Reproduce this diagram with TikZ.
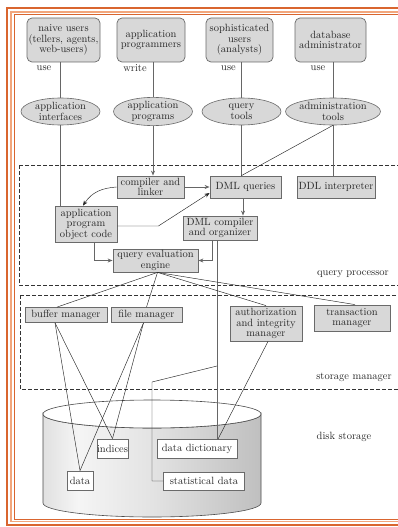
\documentclass[tikz,border=0pt]{standalone}
\usetikzlibrary{shapes.geometric,arrows.meta}
\definecolor{boxfill}{HTML}{D8D8D8}
\definecolor{boxline}{HTML}{6A6A6A}
\definecolor{frameA}{HTML}{D9652F}
\definecolor{frameB}{HTML}{F2A67C}
\pgfdeclarehorizontalshading{cylshade}{100bp}{color(0bp)=(gray!70); color(12bp)=(gray!50); color(33bp)=(gray!8); color(50bp)=(gray!22); color(75bp)=(gray!50); color(92bp)=(gray!75); color(100bp)=(gray!65)}
\begin{document}
\begin{tikzpicture}[x=1pt,y=-1pt, font=\fontsize{10.5}{10.5}\selectfont,
 ubox/.style={draw=boxline, fill=boxfill, rounded corners=5pt, align=center, inner sep=0pt, line width=0.7pt, text=black!85},
 eln/.style={ellipse, draw=boxline, fill=boxfill, align=center, inner sep=0pt, line width=0.6pt, text=black!85},
 pbox/.style={draw=boxline, fill=boxfill, align=center, inner sep=0pt, line width=0.8pt, text=black!85},
 wbox/.style={draw=boxline, fill=white, align=center, inner sep=0pt, line width=0.8pt, text=black!85},
 gline/.style={draw=black!60, line width=0.9pt},
 tline/.style={draw=black!85, line width=0.45pt},
 arr/.style={-{Stealth[length=5pt,width=4pt]}},
 region/.style={draw=black!80, line width=0.6pt, dash pattern=on 4pt off 2pt},
 lbl/.style={inner sep=0pt, text=black!85}]

\useasboundingbox (0,0) rectangle (398,527);
\fill[white] (0,0) rectangle (398,527);
% frame
\draw[frameA, line width=2.5pt] (7,8) rectangle (410,525);
\draw[frameB, line width=1.2pt] (11,12) rectangle (410,521.5);
\draw[frameA, line width=0.8pt] (14,14.5) rectangle (410,519);

% disk cylinder
\shade[shading=cylshade, draw=black!70, line width=0.6pt] (43,414) -- (43,503)
  arc[start angle=180, end angle=0, x radius=109, y radius=14] -- (261,414)
  arc[start angle=0, end angle=180, x radius=109, y radius=14] -- cycle;
\draw[fill=white, draw=black!70, line width=0.6pt] (152,414) ellipse [x radius=109, y radius=14];

% dashed regions
\draw[region] (19,165) rectangle (405,285);
\draw[region] (20,295) rectangle (405,389);

% users
\node[ubox, minimum width=73pt, minimum height=44pt] (naive) at (63.5,40) {naive users\\(tellers, agents,\\web-users)};
\node[ubox, minimum width=68pt, minimum height=44pt] (appprog) at (151,40) {application\\programmers};
\node[ubox, minimum width=67pt, minimum height=44pt] (soph) at (239.5,40) {sophisticated\\users\\(analysts)};
\node[ubox, minimum width=71pt, minimum height=44pt] (dba) at (330.5,40) {database\\administrator};

\node[lbl] (use1) at (44,68) {use};
\node[lbl] (write) at (135,68) {write};
\node[lbl] (use2) at (228.5,68) {use};
\node[lbl] (use3) at (318,68) {use};

% tools
\node[eln, minimum width=79pt, minimum height=27pt] (ai) at (60.5,111.5) {application\\interfaces};
\node[eln, minimum width=79pt, minimum height=27pt] (apps) at (153,111.5) {application\\programs};
\node[eln, minimum width=79pt, minimum height=27pt] (qt) at (241.5,111.5) {query\\tools};
\node[eln, minimum width=80pt, minimum height=27pt] (adm) at (333,111.5) {administration\\tools};

% query processor
\node[pbox, minimum width=67pt, minimum height=22pt] (cl) at (150.5,187) {compiler and\\linker};
\node[pbox, minimum width=71pt, minimum height=22pt] (dml) at (245.5,187) {DML queries};
\node[pbox, minimum width=78pt, minimum height=22pt] (ddl) at (336,187) {DDL interpreter};
\node[pbox, minimum width=62pt, minimum height=36pt] (obj) at (86,224) {application\\program\\object code};
\node[pbox, minimum width=74pt, minimum height=24pt] (dcomp) at (220,228) {DML compiler\\and organizer};
\node[pbox, minimum width=85pt, minimum height=23pt] (qe) at (155.5,260.5) {query evaluation\\engine};
\node[lbl] (lqp) at (353,274) {query processor};

% storage manager
\node[pbox, minimum width=82pt, minimum height=15pt] (buf) at (66,315) {buffer manager};
\node[pbox, minimum width=71pt, minimum height=15pt] (fm) at (146.5,315) {file manager};
\node[pbox, minimum width=72pt, minimum height=35pt] (auth) at (266,323.5) {authorization\\and integrity\\manager};
\node[pbox, minimum width=76pt, minimum height=26pt] (trans) at (352,318) {transaction\\manager};
\node[lbl] (lsm) at (354,377) {storage manager};

% disk storage
\node[wbox, minimum width=31pt, minimum height=19pt] (idx) at (112.5,448.5) {indices};
\node[wbox, minimum width=80pt, minimum height=19pt] (dd) at (197,449) {data dictionary};
\node[wbox, minimum width=26pt, minimum height=19pt] (data) at (80,480.5) {data};
\node[wbox, minimum width=81pt, minimum height=18pt] (stats) at (204,481) {statistical data};
\node[lbl] (lds) at (344,437) {disk storage};

% connectors: users to tools
\draw[gline] (ai.north |- naive.south) -- (ai.north);
\draw[gline] (ai.south) -- (ai.south |- obj.north);
\draw[gline] (apps.north |- appprog.south) -- (apps.north);
\draw[gline, arr] (apps.south) -- (apps.south |- cl.north);
\draw[gline] (qt.north |- soph.south) -- (qt.north);
\coordinate (dmltop) at (qt.south |- dml.north);
\draw[gline] (qt.south) -- (dmltop);
\draw[gline] (adm.north |- dba.south) -- (adm.north);
\draw[gline] (adm.south) -- (adm.south |- ddl.north);
\draw[tline] (adm.south) -- (dmltop);

% query processor connectors
\draw[tline, arr] (cl.west) .. controls (102,188) and (92,192) .. ([xshift=-3pt]obj.north);
\draw[gline, arr] (cl.east) -- (dml.west);
\draw[tline, arr] ([yshift=-2pt]obj.east) -- ++(41,0) -- ([yshift=-6pt]dml.west);
\draw[gline, arr] ([xshift=-2.5pt]dml.south) -- ([xshift=-2.5pt]dml.south |- dcomp.north);
\draw[gline, arr] ([xshift=-8pt]dcomp.south) |- (qe.east);
\draw[gline, arr] ([xshift=8pt]obj.south) |- (qe.west);
\draw[gline] ([xshift=-3pt]dcomp.south) -- ([xshift=-3pt]dcomp.south |- dd.north);
\coordinate (tap) at ([xshift=-3pt]dcomp.south |- 0,366);
\draw[tline] (tap) -- (152,382) |- (stats.west);

% fan out from query evaluation engine
\coordinate (qes) at ([xshift=2pt]qe.south);
\draw[tline] (qes) -- ([xshift=-9pt]buf.north);
\draw[tline] (qes) -- (fm.north);
\draw[tline] (qes) -- (auth.north);
\draw[tline] (qes) -- ([xshift=3pt]trans.north);

% storage to disk
\draw[tline] ([xshift=-11pt]buf.south) -- (data.north);
\draw[tline] ([xshift=-11pt]buf.south) -- (idx.north);
\draw[tline] ([xshift=-3pt]fm.south) -- (data.north);
\draw[tline] ([xshift=-3pt]fm.south) -- (idx.north);
\draw[tline] ([xshift=2pt]auth.south) -- ([xshift=21pt]dd.north);
\end{tikzpicture}
\end{document}
